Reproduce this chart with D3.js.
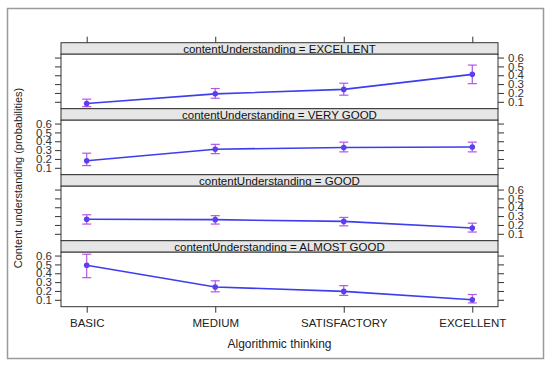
<!DOCTYPE html>
<html><head><meta charset="utf-8">
<script src="https://cdn.jsdelivr.net/npm/d3@7"></script>
<style>
body{margin:0;background:#fff;}
svg{display:block;font-family:"Liberation Sans",Arial,sans-serif;}
</style></head>
<body><svg id="c" width="550" height="366"></svg>
<script>
const categories = ["BASIC","MEDIUM","SATISFACTORY","EXCELLENT"];
const panelNames = ["EXCELLENT","VERY GOOD","GOOD","ALMOST GOOD"];
const fitExcellent  = [0.08, 0.19, 0.24, 0.41];
const loExcellent   = [0.045, 0.14, 0.175, 0.305];
const hiExcellent   = [0.13, 0.25, 0.31, 0.515];
const fitVeryGood   = [0.18, 0.31, 0.33, 0.335];
const loVeryGood    = [0.125, 0.26, 0.28, 0.28];
const hiVeryGood    = [0.265, 0.365, 0.39, 0.39];
const fitGood       = [0.265, 0.26, 0.24, 0.165];
const loGood        = [0.21, 0.21, 0.19, 0.12];
const hiGood        = [0.315, 0.305, 0.285, 0.22];
const fitAlmostGood = [0.49, 0.245, 0.195, 0.10];
const loAlmostGood  = [0.35, 0.19, 0.15, 0.065];
const hiAlmostGood  = [0.615, 0.315, 0.26, 0.16];
const yTicks = [0.1,0.2,0.3,0.4,0.5,0.6];
const stripPrefix = "contentUnderstanding = ";
const xTitle = "Algorithmic thinking";
const yTitle = "Content understanding (probabilities)";

const panels = [
  {name: panelNames[0], fit: fitExcellent, lo: loExcellent, hi: hiExcellent},
  {name: panelNames[1], fit: fitVeryGood, lo: loVeryGood, hi: hiVeryGood},
  {name: panelNames[2], fit: fitGood, lo: loGood, hi: hiGood},
  {name: panelNames[3], fit: fitAlmostGood, lo: loAlmostGood, hi: hiAlmostGood}
];

const svg = d3.select("#c");
svg.append("rect").attr("x",7.5).attr("y",8.5).attr("width",536).attr("height",350)
  .attr("fill","none").attr("stroke","#9a9a9a").attr("stroke-width",1.5);

const L = 61, R = 498, top0 = 42.7, step = 66, stripH = 11.5, panelH = 54.5;
const x = d3.scalePoint().domain(categories).range([L, R]).padding(0.2);
const yDomain = [0.022, 0.638];
const lineCol = "#3d3df0", ptCol = "#5a3ff0", errCol = "#b455e6";

panels.forEach((p, i) => {
  const sTop = top0 + i*step;
  const pTop = sTop + stripH;
  const pBot = pTop + panelH;
  const y = d3.scaleLinear().domain(yDomain).range([pBot, pTop]);
  const g = svg.append("g");
  g.append("rect").attr("x",L).attr("y",sTop).attr("width",R-L).attr("height",stripH)
    .attr("fill","#e6e6e6").attr("stroke","#333").attr("stroke-width",1);
  g.append("text").attr("x",(L+R)/2).attr("y",sTop+stripH-0.8).attr("text-anchor","middle")
    .attr("font-size","11.5px").attr("fill","#111").text(stripPrefix + p.name);
  g.append("rect").attr("x",L).attr("y",pTop).attr("width",R-L).attr("height",panelH)
    .attr("fill","#fff").attr("stroke","#333").attr("stroke-width",1);
  const labelsRight = (i % 2 === 0);
  const aL = d3.axisLeft(y).tickValues(yTicks).tickSize(6).tickPadding(3)
    .tickFormat(labelsRight ? () => "" : d3.format(".1f"));
  const aR = d3.axisRight(y).tickValues(yTicks).tickSize(6).tickPadding(4)
    .tickFormat(labelsRight ? d3.format(".1f") : () => "");
  [[aL, L],[aR, R]].forEach(([ax, xx]) => {
    const ag = g.append("g").attr("transform",`translate(${xx},0)`).call(ax);
    ag.select(".domain").remove();
    ag.selectAll("line").attr("stroke","#333");
    ag.selectAll("text").attr("font-size","11.5px").attr("fill","#333")
      .style("font-family","'Liberation Sans',Arial,sans-serif");
  });
  const idx = d3.range(categories.length);
  const eb = g.append("g").attr("stroke",errCol).attr("stroke-width",1.2).attr("fill","none");
  idx.forEach(k => {
    const cx = x(categories[k]);
    eb.append("line").attr("x1",cx).attr("x2",cx).attr("y1",y(p.lo[k])).attr("y2",y(p.hi[k]));
    eb.append("line").attr("x1",cx-4.5).attr("x2",cx+4.5).attr("y1",y(p.lo[k])).attr("y2",y(p.lo[k]));
    eb.append("line").attr("x1",cx-4.5).attr("x2",cx+4.5).attr("y1",y(p.hi[k])).attr("y2",y(p.hi[k]));
  });
  const line = d3.line().x(k => x(categories[k])).y(k => y(p.fit[k]));
  g.append("path").attr("d",line(idx)).attr("fill","none").attr("stroke",lineCol).attr("stroke-width",1.6);
  g.selectAll("circle.pt").data(idx).join("circle").attr("class","pt")
    .attr("cx",k => x(categories[k])).attr("cy",k => y(p.fit[k])).attr("r",2.8)
    .attr("fill",ptCol);
});

const topAx = svg.append("g").attr("transform",`translate(0,${top0})`)
  .call(d3.axisTop(x).tickSize(6).tickFormat(() => ""));
topAx.select(".domain").remove();
topAx.selectAll("line").attr("stroke","#333");
const bottomY = top0 + 3*step + stripH + panelH;
const botAx = svg.append("g").attr("transform",`translate(0,${bottomY})`)
  .call(d3.axisBottom(x).tickSize(6).tickPadding(6));
botAx.select(".domain").remove();
botAx.selectAll("line").attr("stroke","#333");
botAx.selectAll("text").attr("font-size","11.5px").attr("fill","#222")
  .style("font-family","'Liberation Sans',Arial,sans-serif");

svg.append("text").attr("x",(L+R)/2).attr("y",348).attr("text-anchor","middle")
  .attr("font-size","12px").attr("fill","#222").text(xTitle);
svg.append("text").attr("transform",`translate(22,178) rotate(-90)`)
  .attr("text-anchor","middle").attr("font-size","11px").attr("fill","#222").text(yTitle);
</script></body></html>
